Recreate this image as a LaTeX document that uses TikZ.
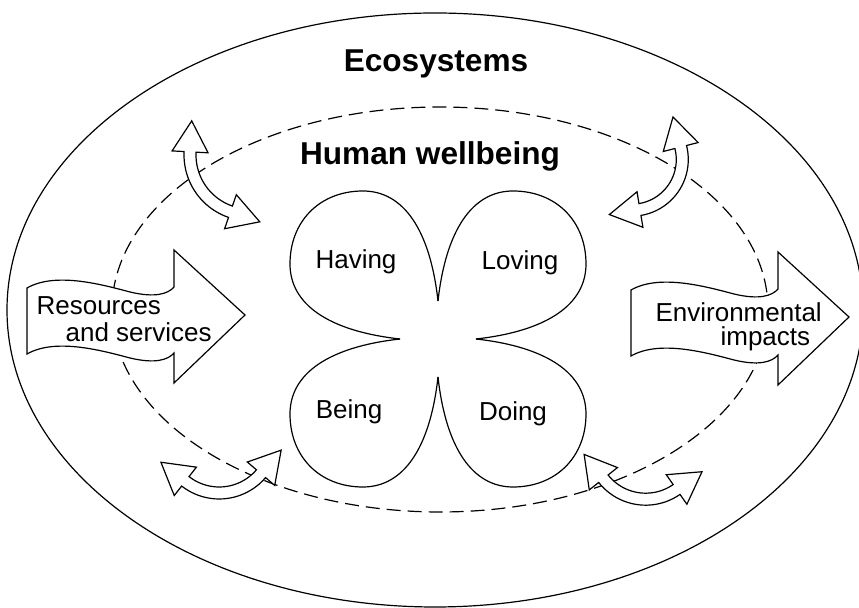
\documentclass[tikz,border=0pt]{standalone}
\usepackage{fontspec}
\setmainfont{Liberation Sans}

% hollow arrow bent along a circle, heads at both ends
% #1,#2 centre, #3 radius, #4 start angle, #5 end angle
\newcommand{\swaparrow}[5]{%
\filldraw[hollow] plot[domain=#4:#5,samples=24] ({#1+(#3+6)*cos(\x)},{#2+(#3+6)*sin(\x)})
  -- ({#1+(#3+18)*cos(#5)},{#2+(#3+18)*sin(#5)})
  -- ({#1+#3*cos(#5)-31*sin(#5)},{#2+#3*sin(#5)+31*cos(#5)})
  -- ({#1+(#3-18)*cos(#5)},{#2+(#3-18)*sin(#5)})
  -- plot[domain=#4:#5,samples=24] ({#1+(#3-6)*cos(#4+#5-\x)},{#2+(#3-6)*sin(#4+#5-\x)})
  -- ({#1+(#3-18)*cos(#4)},{#2+(#3-18)*sin(#4)})
  -- ({#1+#3*cos(#4)+31*sin(#4)},{#2+#3*sin(#4)-31*cos(#4)})
  -- ({#1+(#3+18)*cos(#4)},{#2+(#3+18)*sin(#4)})
  -- cycle;}

\begin{document}
\begin{tikzpicture}[x=0.5pt,y=-0.5pt,line width=0.6pt,
  hollow/.style={draw=black,fill=white,line width=0.6pt},
  word/.style={font=\fontsize{13}{15}\selectfont,inner sep=0pt},
  bigword/.style={font=\fontsize{15.8}{18}\selectfont\bfseries,inner sep=0pt}]
\useasboundingbox (0,0) rectangle (859,608);
\draw (435,310) ellipse [x radius=428,y radius=297]; % ecosystems
\draw[dash pattern=on 7pt off 3.5pt] (440,309.5) ellipse [x radius=328,y radius=202.5]; % wellbeing
\node[bigword,anchor=base] (eco) at (436,72) {Ecosystems};
\node[bigword,anchor=base] (human) at (430,165) {Human wellbeing};
% flows in and out
\foreach \dx/\dy in {0/0,604/2}
\draw[hollow,shift={(\dx,\dy)}] (27,288) .. controls (55,272) and (100,284) .. (130,292)
  .. controls (155,298) and (168,294) .. (174,287) -- (174,250) -- (245,315) -- (174,383)
  -- (174,353) .. controls (168,360) and (155,364) .. (130,358)
  .. controls (100,350) and (55,338) .. (27,354) -- cycle;
\node[word,anchor=base west] (res1) at (36,315) {Resources};
\node[word,anchor=base west] (res2) at (65,342) {and services};
\node[word,anchor=base west] (env1) at (655,322) {Environmental};
\node[word,anchor=base west] (env2) at (720,346) {impacts};
% exchanges
\swaparrow{250}{155}{60}{109}{183}
\swaparrow{631.7}{159.6}{50.6}{-14.4}{80.6}
\swaparrow{219.2}{438}{55}{40.5}{128}
\swaparrow{645.7}{445.2}{54}{55.1}{141.6}
% four leaf clover
\foreach \sx/\sy in {1/1,-1/1,1/-1,-1/-1}
\draw[shift={(438,339)},xscale=\sx,yscale=\sy] (0,-38) .. controls (-8,-110) and (-35,-148) .. (-75,-148)
  .. controls (-118,-148) and (-148,-118) .. (-148,-75)
  .. controls (-148,-35) and (-110,-8) .. (-38,0);
\node[word,anchor=base] (having) at (356,269) {Having};
\node[word,anchor=base] (loving) at (520,270) {Loving};
\node[word,anchor=base] (being) at (349,419) {Being};
\node[word,anchor=base] (doing) at (513,421) {Doing};
\end{tikzpicture}
\end{document}
